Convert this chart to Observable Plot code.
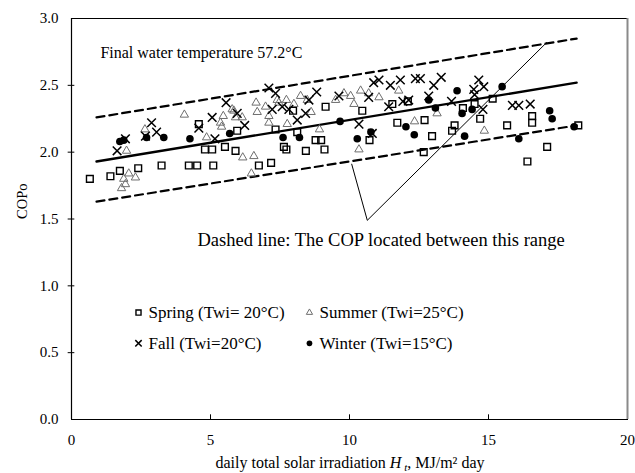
<!DOCTYPE html>
<html>
<head>
<meta charset="utf-8">
<script src="https://cdn.jsdelivr.net/npm/d3@7"></script>
<script src="https://cdn.jsdelivr.net/npm/@observablehq/plot@0.6"></script>
<style>
  html, body { margin: 0; padding: 0; background: #fff; }
  #chart { width: 635px; height: 473px; }
</style>
</head>
<body>
<div id="chart"></div>
<script>
// Measured COPo against daily total solar irradiation, by season
const spring = [[0.66,1.80],[1.40,1.82],[1.74,1.86],[2.40,1.88],[3.24,1.90],[4.22,1.90],[4.52,1.90],[5.10,1.90],[4.58,2.21],[4.80,2.02],[5.06,2.02],[5.52,2.04],[5.90,2.01],[5.96,2.16],[6.74,1.90],[7.18,1.92],[7.34,2.17],[7.64,2.04],[7.73,2.02],[7.97,2.31],[8.12,2.15],[8.43,2.01],[8.78,2.09],[8.98,2.09],[9.10,2.02],[9.14,2.34],[10.46,2.31],[10.72,2.09],[11.54,2.36],[11.72,2.22],[12.10,2.38],[12.67,2.00],[12.70,2.24],[12.97,2.12],[13.69,2.16],[13.78,2.20],[14.08,2.33],[14.50,2.36],[14.70,2.25],[15.15,2.40],[15.67,2.20],[16.57,2.27],[16.57,2.22],[17.11,2.04],[16.40,1.93],[18.23,2.20]];
const summer = [[1.80,1.73],[1.94,1.76],[2.06,1.84],[2.30,1.81],[1.88,1.80],[1.98,2.01],[2.64,2.17],[4.06,2.28],[4.86,2.11],[5.36,2.22],[5.40,2.19],[5.46,2.27],[5.78,2.32],[5.90,2.26],[5.84,2.31],[6.14,2.26],[6.16,1.96],[6.47,1.84],[6.56,1.97],[6.64,2.37],[6.68,2.30],[6.98,2.34],[7.10,2.27],[7.10,2.22],[7.40,2.39],[7.46,2.37],[7.73,2.39],[7.76,2.21],[8.00,2.36],[8.24,2.42],[8.48,2.39],[8.62,2.30],[8.92,2.17],[9.50,2.39],[9.80,2.44],[10.04,2.42],[10.16,2.36],[10.40,2.46],[10.69,2.44],[11.06,2.41],[11.77,2.46],[10.34,2.02],[12.34,2.23],[13.15,2.29],[14.85,2.16]];
const fall = [[1.64,2.01],[1.94,2.10],[2.66,2.12],[2.88,2.22],[3.06,2.15],[4.58,2.18],[5.06,2.26],[5.16,2.10],[5.56,2.37],[5.96,2.29],[6.23,2.20],[7.10,2.48],[7.34,2.44],[7.22,2.32],[7.58,2.34],[7.82,2.32],[8.12,2.24],[8.42,2.29],[8.54,2.39],[8.82,2.45],[9.62,2.42],[10.34,2.21],[10.69,2.41],[10.87,2.52],[11.06,2.54],[11.47,2.50],[11.83,2.54],[11.41,2.34],[10.82,2.14],[12.13,2.39],[11.92,2.38],[12.37,2.55],[12.55,2.55],[13.03,2.50],[13.30,2.56],[12.85,2.42],[13.67,2.38],[14.47,2.47],[14.65,2.54],[14.83,2.49],[14.50,2.43],[14.80,2.32],[15.86,2.35],[16.09,2.35],[16.50,2.36]];
const winter = [[1.74,2.08],[1.88,2.09],[2.70,2.11],[3.32,2.11],[4.26,2.10],[5.69,2.14],[7.61,2.11],[8.20,2.11],[9.66,2.23],[10.28,2.10],[10.77,2.15],[12.03,2.19],[12.33,2.13],[12.85,2.39],[13.09,2.33],[13.87,2.46],[14.05,2.29],[14.14,2.12],[14.41,2.32],[15.49,2.49],[16.09,2.10],[17.20,2.31],[17.29,2.25],[18.08,2.19]];

// Fitted trend and the band that contains the COP values
const bandX = [0.90, 18.17];
const trendY = [1.93, 2.52];
const upperY = [2.26, 2.85];
const lowerY = [1.63, 2.20];

// Callout from the note to both dashed limits
const calloutX = [10.08, 10.64, 17.09];
const calloutY = [1.91, 1.49, 2.82];

const seasonNames = ["Spring (Twi= 20°C)", "Summer (Twi=25°C)", "Fall (Twi=20°C)", "Winter (Twi=15°C)"];
const xTicks = [0, 5, 10, 15, 20];
const yTicks = [0, 0.5, 1.0, 1.5, 2.0, 2.5, 3.0];
const innerXTicks = [5, 10, 15];
const innerYTicks = [0.5, 1.0, 1.5, 2.0, 2.5];
const noteTitle = "Final water temperature 57.2°C";
const noteBand = "Dashed line: The COP located between this range";

const serif = "'Liberation Serif', 'Times New Roman', Times, serif";
const rows = (pts) => pts.map(([x, y]) => ({x, y}));
const segment = (ys) => bandX.map((x, i) => ({x, y: ys[i]}));
const callout = calloutX.map((x, i) => ({x, y: calloutY[i]}));

// Symbol styles per season, in legend order
const styles = [
  {symbol: "square", r: 3.8, fill: "none", stroke: "#000", strokeWidth: 1.4},
  {symbol: "triangle", r: 3.1, fill: "none", stroke: "#6e6e6e", strokeWidth: 1},
  {symbol: "times", r: 4.0, fill: "none", stroke: "#000", strokeWidth: 1.5},
  {symbol: "circle", r: 3.8, fill: "#000", stroke: "none", strokeWidth: 0}
];
const series = [spring, summer, fall, winter];

// Legend laid out in two columns and two rows inside the plot
const legendCols = [2.41, 8.56];
const legendRowsY = [0.80, 0.57];
const legend = seasonNames.map((name, i) => ({
  name, x: legendCols[i % 2], y: legendRowsY[Math.floor(i / 2)], ...styles[i]
}));

const dotMarks = series.map((s, i) => Plot.dot(rows(s), {
  x: "x", y: "y", symbol: () => styles[i].symbol, r: styles[i].r,
  fill: styles[i].fill, stroke: styles[i].stroke, strokeWidth: styles[i].strokeWidth
}));
const legendDots = legend.map((d) => Plot.dot([d], {
  x: "x", y: "y", symbol: () => d.symbol, r: d.r * 0.75,
  fill: d.fill, stroke: d.stroke, strokeWidth: d.strokeWidth
}));

const chart = Plot.plot({
  width: 635,
  height: 473,
  marginLeft: 71,
  marginRight: 8,
  marginTop: 18,
  marginBottom: 54,
  style: {fontFamily: serif, fontSize: "14px", background: "#fff", color: "#000", overflow: "visible"},
  x: {domain: [0, 20]},
  y: {domain: [0, 3]},
  marks: [
    Plot.frame({stroke: "#000", strokeWidth: 1}),
    Plot.ruleX([20], {stroke: "#8a8a8a", strokeWidth: 2}),
    Plot.ruleX([0], {stroke: "#000", strokeWidth: 1.2}),
    Plot.ruleY([0], {stroke: "#000", strokeWidth: 1.2}),
    Plot.ruleX(innerXTicks, {y1: 0, y2: 0.035, stroke: "#000"}),
    Plot.ruleY(innerYTicks, {x1: -0.12, x2: 0.12, stroke: "#000"}),
    Plot.axisX({ticks: xTicks, tickSize: 0, tickPadding: 15, tickFormat: (d) => `${d}`, label: null, fontSize: 15}),
    Plot.axisY({ticks: yTicks, tickSize: 0, tickPadding: 13, tickFormat: d3.format(".1f"), label: null, fontSize: 15}),
    Plot.text(["COPo"], {frameAnchor: "left", dx: -49, dy: 0, rotate: -90, fontSize: 14.5}),
    Plot.line(segment(upperY), {x: "x", y: "y", stroke: "#000", strokeWidth: 2.2, strokeDasharray: "8,5"}),
    Plot.line(segment(lowerY), {x: "x", y: "y", stroke: "#000", strokeWidth: 2.2, strokeDasharray: "8,5"}),
    Plot.line(segment(trendY), {x: "x", y: "y", stroke: "#000", strokeWidth: 2.4}),
    ...dotMarks,
    Plot.line(callout, {x: "x", y: "y", stroke: "#000", strokeWidth: 1}),
    Plot.text([noteTitle], {x: 1.04, y: 2.74, text: (d) => d, textAnchor: "start", fontSize: 16}),
    Plot.text([noteBand], {x: 4.53, y: 1.34, text: (d) => d, textAnchor: "start", fontSize: 18.5}),
    ...legendDots,
    Plot.text(legend, {x: "x", y: "y", text: "name", dx: 10, textAnchor: "start", fontSize: 17})
  ]
});

// Axis title with the italic H and its subscript t
const svg = d3.select(chart);
const xTitle = svg.append("text")
  .attr("x", 350)
  .attr("y", 468)
  .attr("text-anchor", "middle")
  .attr("font-family", serif)
  .attr("font-size", 16)
  .attr("fill", "#000");
xTitle.append("tspan").text("daily total solar irradiation ");
xTitle.append("tspan").attr("font-style", "italic").text("H");
xTitle.append("tspan").attr("font-style", "italic").attr("font-size", 11).attr("dx", 3).attr("dy", 3).text("t");
xTitle.append("tspan").attr("dy", -3).text(", MJ/m² day");

document.getElementById("chart").appendChild(chart);
</script>
</body>
</html>
